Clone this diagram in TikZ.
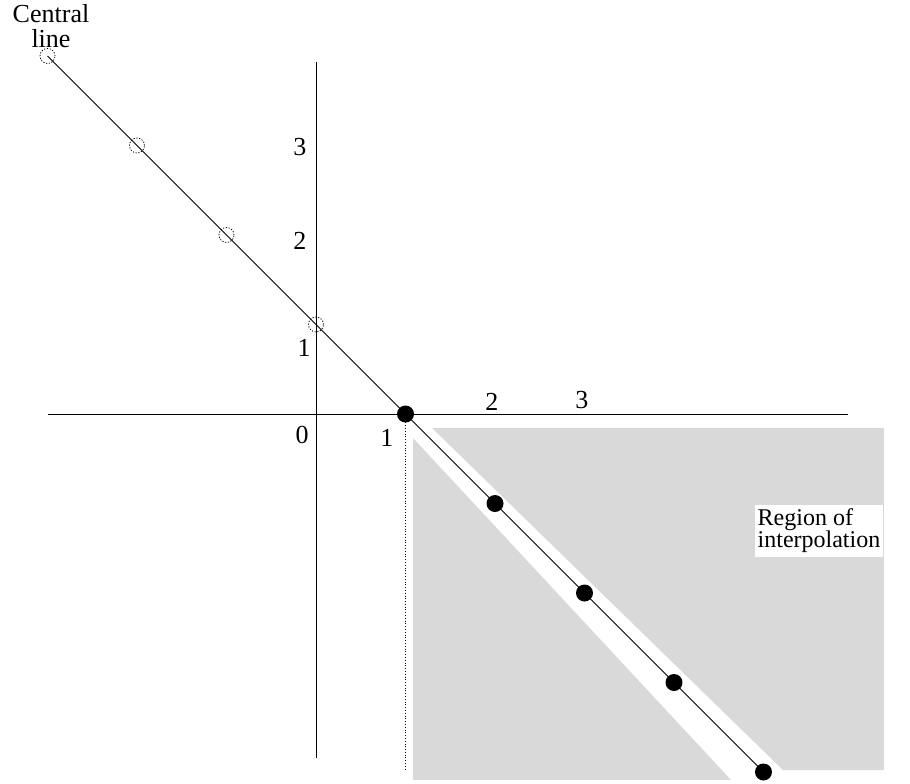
\documentclass[tikz,border=0pt]{standalone}
\usepackage{fontspec}
\setmainfont{Liberation Serif}
\usepackage{tikz}
\usetikzlibrary{positioning,calc}
\tikzset{
  interpregion/.style={fill=black!15, draw=none},
  gridaxis/.style={draw, line width=0.8bp},
  centralline/.style={draw, line width=0.8bp},
  guideline/.style={draw, dotted, line width=0.8bp},
  solidpt/.style={circle, fill=black, inner sep=0pt, minimum size=17bp},
  hollowpt/.style={circle, draw, dash pattern=on 1.2bp off 1.6bp, line width=0.8bp, inner sep=0pt, minimum size=15bp},
  ticklabel/.style={inner sep=0pt, font=\fontsize{26bp}{23bp}\selectfont},
  regionlabel/.style={fill=white, align=left, inner xsep=3bp, inner ysep=4bp, font=\fontsize{24bp}{22bp}\selectfont}
}
\begin{document}
\begin{tikzpicture}[x=89.5bp, y=89.5bp]
\useasboundingbox (-3.531,-4.123) rectangle (6.637,4.626);
% shaded regions either side of the line
\path[interpregion] (1.296,-0.156) -- (6.346,-0.156) -- (6.346,-3.978) -- (5.218,-3.978) -- cycle;
\path[interpregion] (1.084,-0.268) -- (1.084,-4.089) -- (4.637,-4.089) -- cycle;
\node[regionlabel, minimum width=1.44*89.5bp] (region) at (5.62,-1.307) {Region of\\interpolation};

% axes
\coordinate (xl) at (-3.0,0);
\coordinate (xr) at (5.944,0);
\coordinate (yt) at (0,3.933);
\coordinate (yb) at (0,-3.844);
\draw[gridaxis] (xl) -- (xr);
\draw[gridaxis] (yt) -- (yb);

% points on the central line
\foreach \k in {0,...,3}
  \node[hollowpt] (h\k) at ({-\k},{\k+1}) {};
\foreach \k in {1,...,5}
  \node[solidpt] (p\k) at (\k,{1-\k}) {};
\coordinate (foot) at (1,-3.98);
\draw[centralline] (h3.center) -- (p5.center);
\draw[guideline] (p1.center) -- (foot);

% labels
\node[ticklabel] (ly3) at (-0.179,2.983) {3};
\node[ticklabel] (ly2) at (-0.179,1.933) {2};
\node[ticklabel] (ly1) at (-0.134,0.737) {1};
\node[ticklabel] (l0) at (-0.156,-0.235) {0};
\node[ticklabel] (lx1) at (0.793,-0.263) {1};
\node[ticklabel] (lx2) at (1.966,0.134) {2};
\node[ticklabel] (lx3) at (2.972,0.151) {3};
\node[ticklabel, align=center, font=\fontsize{26bp}{25bp}\selectfont] (central) at (-2.961,4.33) {Central\\line};
\end{tikzpicture}
\end{document}
